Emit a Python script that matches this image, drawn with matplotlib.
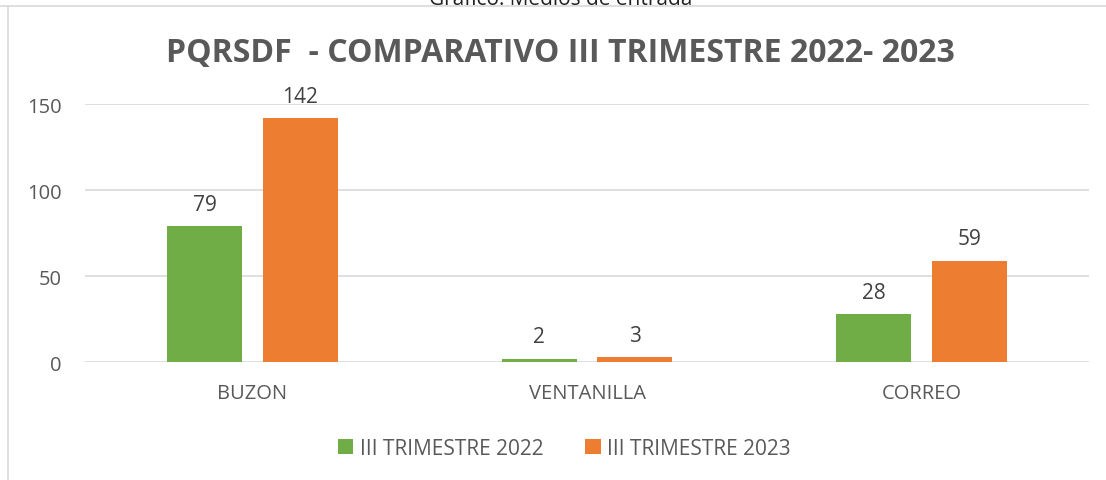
import numpy as np
import matplotlib.pyplot as plt
from matplotlib.lines import Line2D

categorias = ["BUZON", "VENTANILLA", "CORREO"]
serie_2022 = [79, 2, 28]
serie_2023 = [142, 3, 59]
nombres = ["III TRIMESTRE 2022", "III TRIMESTRE 2023"]
yticks = [0, 50, 100, 150]

gris = "#595959"
plt.rcParams["font.family"] = ["Open Sans", "DejaVu Sans"]

fig = plt.figure(figsize=(11.06, 4.81), dpi=100)
ax = fig.add_axes([0.0769, 0.2453, 0.9077, 0.5364])

x = np.arange(len(categorias))
w = 0.224
b1 = ax.bar(x - 0.1425, serie_2022, w, color="#70AD47", label=nombres[0], zorder=3)
b2 = ax.bar(x + 0.1425, serie_2023, w, color="#ED7D31", label=nombres[1], zorder=3)

for barras in (b1, b2):
    for r in barras:
        ax.annotate(str(int(r.get_height())), (r.get_x() + r.get_width() / 2, r.get_height()),
                    xytext=(0, 8), textcoords="offset points", ha="center", va="bottom",
                    fontsize=15, color="#404040")

ax.set_xlim(-0.5, 2.5)
ax.set_ylim(0, 150)
ax.set_yticks(yticks)
ax.set_xticks(x)
ax.set_xticklabels(categorias)
ax.tick_params(axis="both", length=0, labelsize=14.5, colors=gris)
ax.tick_params(axis="x", pad=15)
ax.tick_params(axis="y", pad=17)
ax.grid(axis="y", color="#D9D9D9", linewidth=1.2, zorder=0)
for s in ax.spines.values():
    s.set_visible(False)

fig.text(0.507, 0.889, "PQRSDF  - COMPARATIVO III TRIMESTRE 2022- 2023",
         ha="center", va="center", fontsize=23, fontweight="bold", color=gris)
fig.text(0.507, 0.989, "Gráfico: Medios de entrada", ha="center", va="baseline",
         fontsize=15, color="#222222")

fig.legend(loc="center", bbox_to_anchor=(0.51, 0.066), ncol=2, frameon=False,
           fontsize=15, labelcolor=gris, handlelength=0.75, handleheight=0.75,
           handletextpad=0.3, columnspacing=2.0)

fig.add_artist(Line2D([0, 1], [1 - 7 / 481, 1 - 7 / 481], color="#D9D9D9", linewidth=1.2))
fig.add_artist(Line2D([8 / 1106, 8 / 1106], [0, 1 - 7 / 481], color="#D9D9D9", linewidth=1.2))

fig.savefig("out.png", dpi=100)
